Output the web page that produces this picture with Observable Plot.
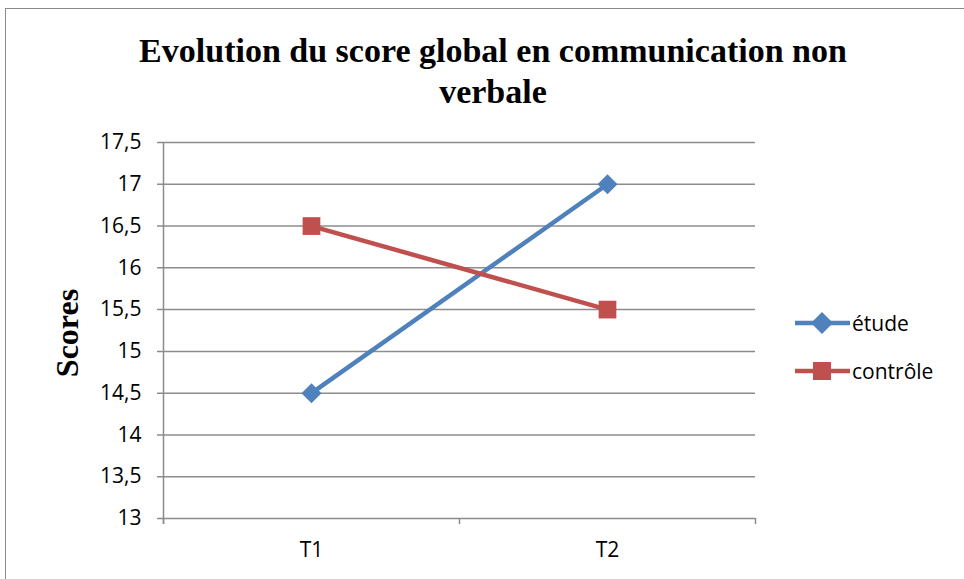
<!DOCTYPE html>
<html><head><meta charset="utf-8">
<script src="https://cdn.jsdelivr.net/npm/d3@7"></script>
<script src="https://cdn.jsdelivr.net/npm/@observablehq/plot@0.6"></script>
<style>
body{margin:0;background:#fff;}
#wrap{position:relative;width:964px;height:579px;overflow:hidden;}
#frame{position:absolute;left:5px;top:8px;width:980px;height:600px;border-left:1.5px solid #8a8a8a;border-top:1.5px solid #8a8a8a;}
#title{position:absolute;left:0;top:30px;width:986px;text-align:center;font-family:"Liberation Serif","Times New Roman",serif;font-weight:bold;font-size:34px;line-height:41px;color:#000;}
#ylab{position:absolute;left:67px;top:333px;transform:translate(-50%,-50%) rotate(-90deg);font-family:"Liberation Serif","Times New Roman",serif;font-weight:bold;font-size:32px;color:#000;white-space:nowrap;}
#legend{position:absolute;left:795px;top:299px;font-family:"Open Sans",sans-serif;font-size:21px;color:#000;}
#legend .it{display:flex;align-items:center;height:48px;}
#legend svg{margin-right:2px;}
#chart{position:absolute;left:0;top:0;}
</style></head>
<body>
<div id="wrap">
<div id="frame"></div>
<div id="chart"></div>
<div id="title">Evolution du score global en communication non<br>verbale</div>
<div id="ylab">Scores</div>
<div id="legend"></div>
</div>
<script>
const categories = ["T1", "T2"];
const seriesNames = ["étude", "contrôle"];
const etude = [14.5, 17];
const controle = [16.5, 15.5];
const yTicks = [13, 13.5, 14, 14.5, 15, 15.5, 16, 16.5, 17, 17.5];
const colors = ["#4F81BD", "#C0504D"];

const toRows = (vals, name) => vals.map((v, i) => ({series: name, xi: i + 0.5, cat: categories[i], y: v}));
const etudeRows = toRows(etude, seriesNames[0]);
const controleRows = toRows(controle, seriesNames[1]);
const data = etudeRows.concat(controleRows);

const fmt = d => String(d).replace(".", ",");

const plot = Plot.plot({
  width: 964, height: 579,
  marginLeft: 163, marginRight: 209, marginTop: 142, marginBottom: 61,
  style: {fontFamily: "'Open Sans', sans-serif", fontSize: "21px", color: "#000", background: "transparent"},
  x: {domain: [0, categories.length], axis: null, label: null},
  y: {domain: [13, 17.5], axis: null, label: null},
  color: {domain: seriesNames, range: colors},
  marks: [
    Plot.ruleY(yTicks, {x1: 0, x2: categories.length, stroke: "#8c8c8c", strokeWidth: 1.5, insetLeft: -6}),
    Plot.ruleX([0], {stroke: "#8c8c8c", strokeWidth: 1.5, insetBottom: -6}),
    Plot.axisY({ticks: yTicks, tickSize: 0, tickPadding: 22, tickFormat: fmt, fontSize: 21, label: null}),
    Plot.axisX({ticks: d3.range(categories.length + 1), tickSize: 6, tickFormat: () => "", stroke: "#8c8c8c", strokeWidth: 1.5, label: null}),
    Plot.axisX({ticks: categories.map((c, i) => i + 0.5), tickSize: 0, tickPadding: 24, tickFormat: d => categories[d - 0.5], fontSize: 21, label: null}),
    Plot.line(data, {x: "xi", y: "y", z: "series", stroke: "series", strokeWidth: 4.5}),
    Plot.dot(etudeRows, {x: "xi", y: "y", fill: colors[0], symbol: "diamond2", r: 9}),
    Plot.dot(controleRows, {x: "xi", y: "y", fill: colors[1], symbol: "square", r: 10})
  ]
});
document.getElementById("chart").appendChild(plot);

const leg = document.getElementById("legend");
seriesNames.forEach((n, s) => {
  const it = document.createElement("div");
  it.className = "it";
  const sym = s === 0
    ? `<polygon points="27,2 38,13 27,24 16,13" fill="${colors[s]}"/>`
    : `<rect x="18" y="4" width="18" height="18" fill="${colors[s]}"/>`;
  it.innerHTML = `<svg width="55" height="26"><line x1="0" y1="13" x2="55" y2="13" stroke="${colors[s]}" stroke-width="4.5"/>${sym}</svg><span>${n}</span>`;
  leg.appendChild(it);
});
</script>
</body></html>
